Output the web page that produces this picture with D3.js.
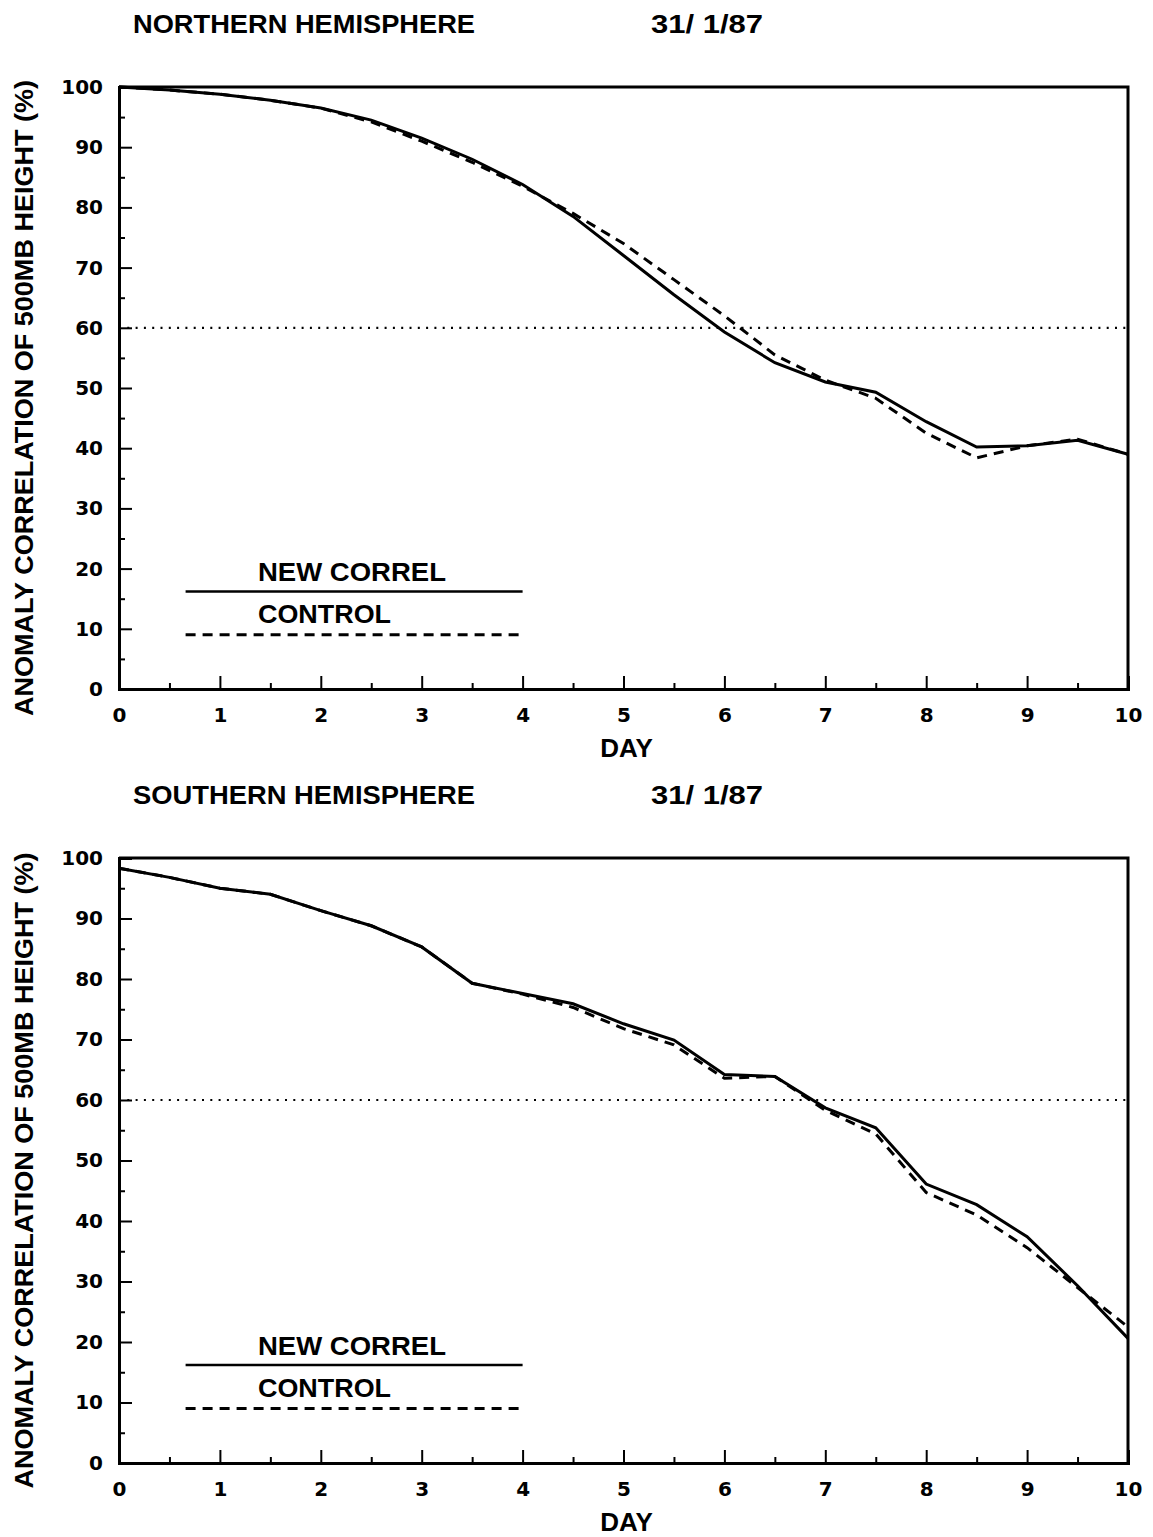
<!DOCTYPE html>
<html>
<head>
<meta charset="utf-8">
<script src="https://cdn.jsdelivr.net/npm/d3@7"></script>
<style>
  body { margin: 0; background: #fff; }
  svg { display: block; }
  text { font-family: "Liberation Sans", Arial, sans-serif; font-weight: bold; fill: #000; }
</style>
</head>
<body>
<svg id="chart" width="1153" height="1537"></svg>
<script>
// forecast day, every half day
var days = [0, 0.5, 1, 1.5, 2, 2.5, 3, 3.5, 4, 4.5, 5, 5.5, 6, 6.5, 7, 7.5, 8, 8.5, 9, 9.5, 10];

// northern hemisphere anomaly correlation (%)
var nhNew     = [100, 99.5, 98.8, 97.8, 96.5, 94.5, 91.5, 88, 83.8, 78.5, 72, 65.5, 59.3, 54.2, 51, 49.3, 44.4, 40.2, 40.4, 41.3, 39];
var nhControl = [100, 99.5, 98.8, 97.8, 96.5, 94.2, 91, 87.5, 83.5, 79, 74, 68, 62, 55.5, 51.3, 48.3, 42.5, 38.4, 40.4, 41.5, 39];

// southern hemisphere anomaly correlation (%)
var shNew     = [98.3, 96.8, 95, 94, 91.3, 88.8, 85.3, 79.3, 77.6, 75.9, 72.6, 69.9, 64.2, 63.9, 58.7, 55.4, 46.1, 42.7, 37.4, 29.3, 20.6];
var shControl = [98.3, 96.8, 95, 94, 91.3, 88.8, 85.3, 79.3, 77.5, 75.3, 71.8, 69.1, 63.6, 63.9, 58.3, 54.4, 44.7, 41, 35.6, 29, 22.5];

var xTicks = [0, 1, 2, 3, 4, 5, 6, 7, 8, 9, 10];
var xMinor = [0.5, 1.5, 2.5, 3.5, 4.5, 5.5, 6.5, 7.5, 8.5, 9.5];
var yTicks = [0, 10, 20, 30, 40, 50, 60, 70, 80, 90, 100];
var yMinor = [5, 15, 25, 35, 45, 55, 65, 75, 85, 95];

var legendNames = ["NEW CORREL", "CONTROL"];
var refLine = 60;

var svg = d3.select("#chart");

var panels = [
  { title: "NORTHERN HEMISPHERE", date: "31/ 1/87", top: 87, bottom: 689, a: nhNew, b: nhControl },
  { title: "SOUTHERN HEMISPHERE", date: "31/ 1/87", top: 858, bottom: 1463, a: shNew, b: shControl }
];

var left = 119, right = 1128;

panels.forEach(function (p) {
  var g = svg.append("g");

  var x = d3.scaleLinear().domain([0, 10]).range([left, right]);
  var y = d3.scaleLinear().domain([0, 100]).range([p.bottom, p.top]);

  // titles
  g.append("text").attr("x", 133).attr("y", p.top - 54)
    .attr("textLength", 342).attr("lengthAdjust", "spacingAndGlyphs")
    .style("font-size", "25px").text(p.title);
  g.append("text").attr("x", 651).attr("y", p.top - 54)
    .attr("textLength", 112).attr("lengthAdjust", "spacingAndGlyphs")
    .style("font-size", "25px").text(p.date);

  // y axis title
  g.append("text")
    .attr("transform", "translate(33," + ((p.top + p.bottom) / 2 + 10) + ") rotate(-90)")
    .attr("text-anchor", "middle")
    .attr("textLength", 636).attr("lengthAdjust", "spacingAndGlyphs")
    .style("font-size", "25px")
    .text("ANOMALY CORRELATION OF 500MB HEIGHT (%)");

  // x axis title
  g.append("text").attr("x", (left + right) / 2 + 3).attr("y", p.bottom + 68)
    .attr("text-anchor", "middle").style("font-size", "26px").text("DAY");

  // reference dotted line
  g.append("line")
    .attr("x1", x(0)).attr("x2", x(10))
    .attr("y1", y(refLine)).attr("y2", y(refLine))
    .attr("stroke", "#000").attr("stroke-width", 2.2)
    .attr("stroke-dasharray", "2,6.3");

  // axes
  g.append("g").attr("transform", "translate(0," + p.bottom + ")")
    .call(d3.axisBottom(x).tickValues(xTicks).tickSize(-13).tickPadding(19).tickFormat(d3.format("d")));
  g.append("g").attr("transform", "translate(0," + p.bottom + ")")
    .call(d3.axisBottom(x).tickValues(xMinor).tickSize(-6).tickFormat(""));
  g.append("g").attr("transform", "translate(" + left + ",0)")
    .call(d3.axisLeft(y).tickValues(yTicks).tickSize(-13).tickPadding(16).tickFormat(d3.format("d")));
  g.append("g").attr("transform", "translate(" + left + ",0)")
    .call(d3.axisLeft(y).tickValues(yMinor).tickSize(-6).tickFormat(""));

  g.selectAll(".domain").attr("stroke", "#000").attr("stroke-width", 3);
  g.selectAll(".tick line").attr("stroke", "#000").attr("stroke-width", 2);
  g.selectAll(".tick text")
    .style("font-family", "'DejaVu Sans', sans-serif")
    .style("font-weight", "bold")
    .style("font-size", "20px");

  // top and right frame
  g.append("path")
    .attr("d", "M" + x(0) + "," + y(100) + "H" + x(10) + "V" + y(0))
    .attr("fill", "none").attr("stroke", "#000").attr("stroke-width", 3);

  // series
  var line = d3.line()
    .x(function (d, i) { return x(days[i]); })
    .y(function (d) { return y(d); });

  g.append("path").datum(p.b).attr("d", line)
    .attr("fill", "none").attr("stroke", "#000").attr("stroke-width", 3)
    .attr("stroke-dasharray", "10,7");
  g.append("path").datum(p.a).attr("d", line)
    .attr("fill", "none").attr("stroke", "#000").attr("stroke-width", 3);

  // legend
  g.append("text").attr("x", 258).attr("y", y(17.9))
    .attr("textLength", 188).attr("lengthAdjust", "spacingAndGlyphs")
    .style("font-size", "25px").text(legendNames[0]);
  g.append("line").attr("x1", x(0.66)).attr("x2", x(4))
    .attr("y1", y(16.2)).attr("y2", y(16.2))
    .attr("stroke", "#000").attr("stroke-width", 2.5);
  g.append("text").attr("x", 258).attr("y", y(10.9))
    .attr("textLength", 133).attr("lengthAdjust", "spacingAndGlyphs")
    .style("font-size", "25px").text(legendNames[1]);
  g.append("line").attr("x1", x(0.66)).attr("x2", x(4))
    .attr("y1", y(9)).attr("y2", y(9))
    .attr("stroke", "#000").attr("stroke-width", 3)
    .attr("stroke-dasharray", "10,7");
});
</script>
</body>
</html>
